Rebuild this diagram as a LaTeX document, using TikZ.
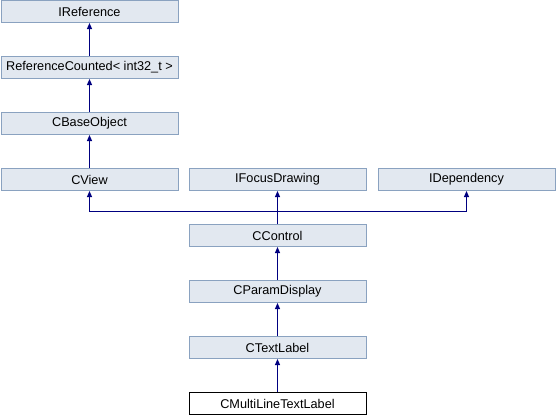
\documentclass[tikz,border=0pt]{standalone}
\usepackage{fontspec}
\setmainfont{Liberation Sans}
\usepackage{tikz}
\usetikzlibrary{arrows.meta}
\definecolor{boxfill}{HTML}{E2E8F0}
\definecolor{boxline}{HTML}{8AA2C0}
\definecolor{edgeblue}{HTML}{000080}

\begin{document}
\begin{tikzpicture}[x=1pt,y=-1pt,
		every node/.style={inner sep=0pt,anchor=center,minimum width=177pt,minimum height=22pt,
			font=\fontsize{12.7}{14}\selectfont},
		cls/.style={draw=boxline,fill=boxfill,line width=1pt},
		cur/.style={draw=black,fill=white,line width=1pt},
		inh/.style={draw=edgeblue,line width=1pt,-{Triangle[length=6pt,width=5pt]}}]
		\useasboundingbox (0,0) rectangle (557,416);
		\node[cls] (iref) at (89.5,11.5) {IReference};
		\node[cls] (refcnt) at (89.5,67.5) {ReferenceCounted< int32\_t >};
		\node[cls] (base) at (89.5,123.5) {CBaseObject};
		\node[cls] (view) at (89.5,179.5) {CView};
		\node[cls] (focus) at (277.5,179.5) {IFocusDrawing};
		\node[cls] (dep) at (466.5,179.5) {IDependency};
		\node[cls] (ctrl) at (277.5,235.5) {CControl};
		\node[cls] (param) at (277.5,291.5) {CParamDisplay};
		\node[cls] (text) at (277.5,347.5) {CTextLabel};
		\node[cur] (multi) at (277.5,403.5) {CMultiLineTextLabel};
		
		\coordinate (bus) at (277.5,211);
		
		\draw[inh] (refcnt) -- (iref);
		\draw[inh] (base) -- (refcnt);
		\draw[inh] (view) -- (base);
		\draw[inh] (ctrl.north) -- (bus) -| (view.south);
		\draw[inh] (ctrl) -- (focus);
		\draw[inh] (bus) -| (dep.south);
		\draw[inh] (param) -- (ctrl);
		\draw[inh] (text) -- (param);
		\draw[inh] (multi) -- (text);
	\end{tikzpicture}
\end{document}
